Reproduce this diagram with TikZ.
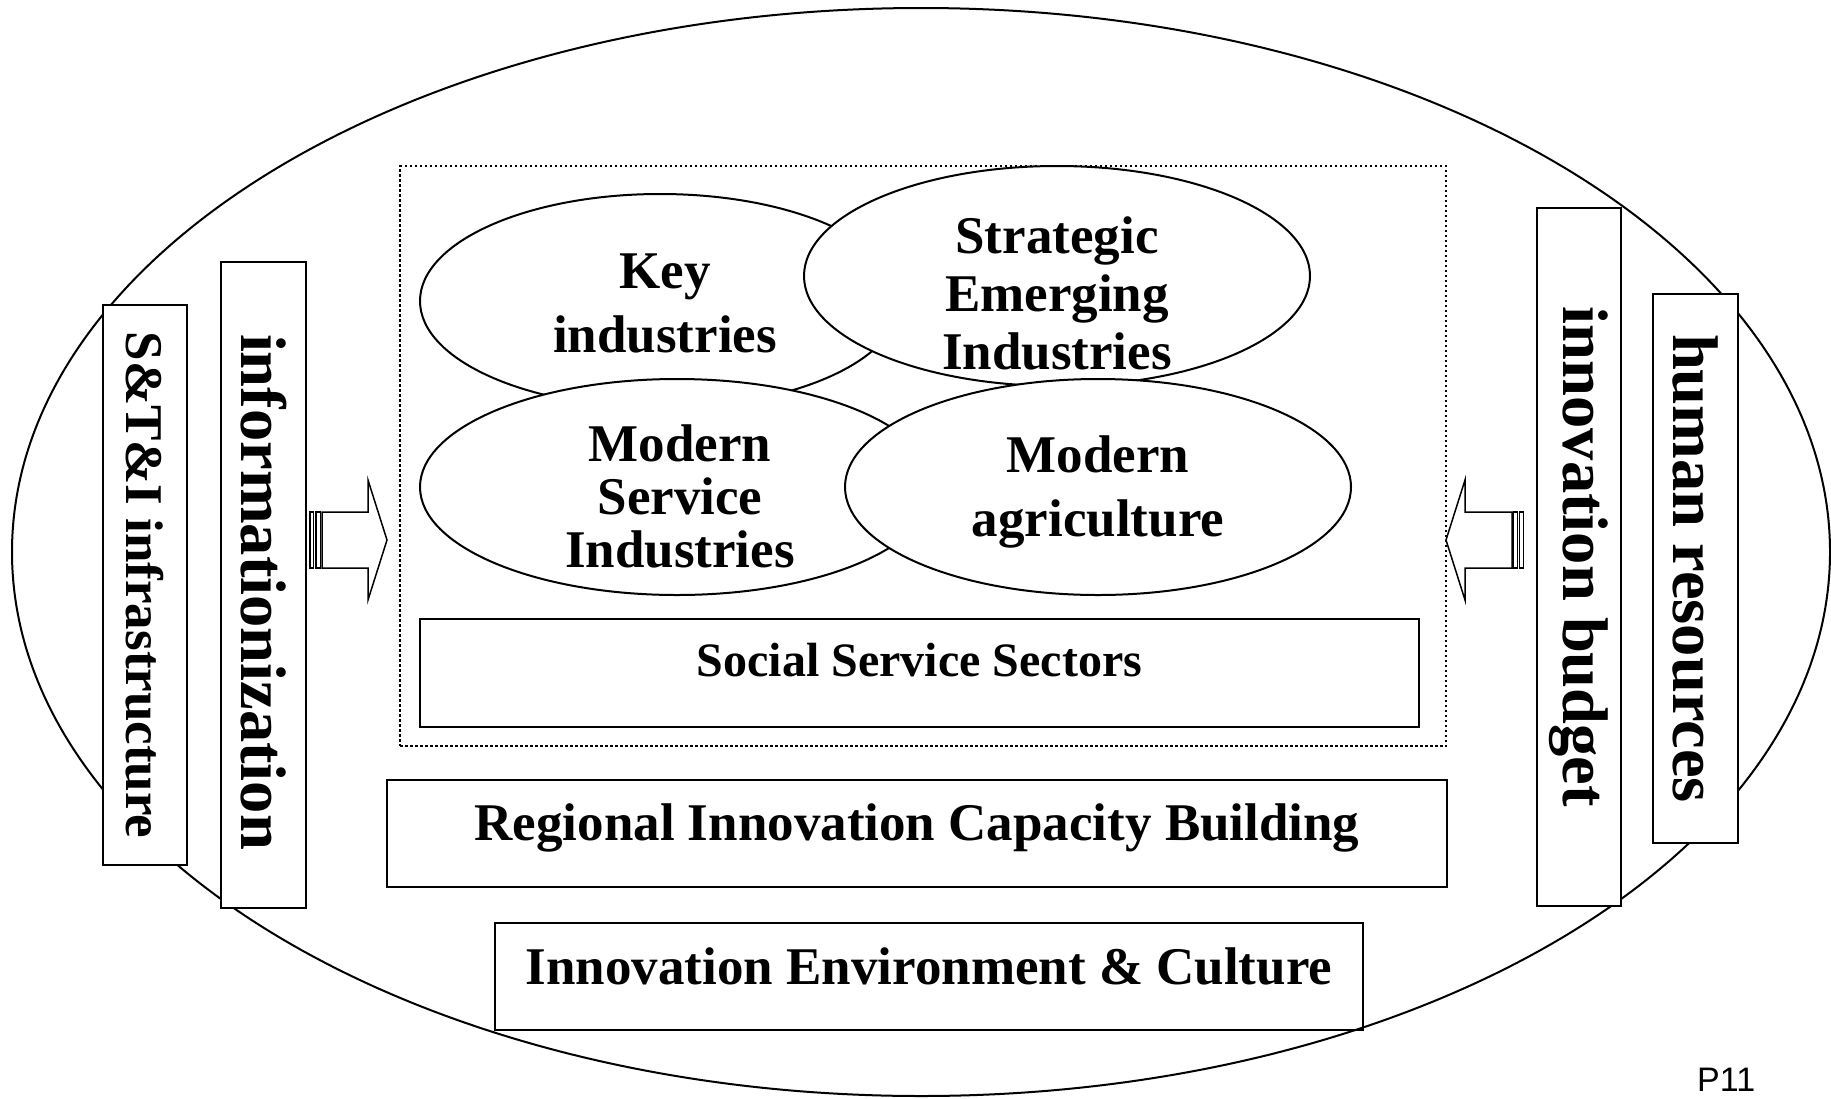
\documentclass[tikz,border=0pt]{standalone}
\usepackage{fontspec}
\setmainfont{Liberation Serif}
\newfontfamily\pagefont{Liberation Sans}
\usetikzlibrary{shapes.geometric,positioning}
\tikzset{
  industry/.style={ellipse,draw,line width=2pt,fill=white,inner sep=0pt},
  sector/.style={rectangle,draw,line width=2pt,inner sep=0pt,
    font=\fontsize{53}{60}\selectfont\bfseries},
  pillar/.style={rectangle,draw,line width=2pt,fill=white,inner sep=0pt,rotate=-90,
    font=\fontsize{64.5}{70}\selectfont\bfseries},
  blocktext/.style={align=center,inner sep=0pt},
  stripe/.style={draw,line width=1.5pt,fill=white}
}
\newcommand{\blockfont}[1]{\fontsize{53}{#1}\selectfont\bfseries}

\begin{document}
\begin{tikzpicture}[x=1pt,y=-1pt]
  \useasboundingbox (0,0) rectangle (1831,1098);
  % outer ellipse
  \draw[line width=2pt] (921,552) ellipse [x radius=909pt,y radius=544pt];
  % dotted frame round the industries
  \node[draw,line width=2.5pt,dash pattern=on 2.5pt off 2.5pt,
    minimum width=1046pt,minimum height=580pt] (core) at (923,456) {};
  % industries
  \node[industry,minimum width=480pt,minimum height=214pt] (key) at (660,301) {};
  \node[blocktext,font=\blockfont{64}] (keytext) at (665,303) {Key\\industries};
  \node[industry,minimum width=506pt,minimum height=220pt] (sei) at (1057,276) {};
  \node[blocktext,font=\blockfont{58}] (seitext) at (1057,293) {Strategic\\Emerging\\Industries};
  \node[industry,minimum width=514pt,minimum height=216pt] (msi) at (677,487) {};
  \node[blocktext,font=\blockfont{53}] (msitext) at (680,496) {Modern\\Service\\Industries};
  \node[industry,minimum width=506pt,minimum height=216pt] (agri) at (1098,487) {};
  \node[blocktext,font=\blockfont{64}] (agritext) at (1098,491.5) {Modern\\agriculture};
  % sectors
  \node[sector,minimum width=999pt,minimum height=108pt,
    font=\fontsize{48}{56}\selectfont\bfseries] (social) at (919.5,673) {};
  \node[font=\fontsize{48}{56}\selectfont\bfseries] (socialtext) at (919.5,660) {Social Service Sectors};
  \node[sector,minimum width=1060pt,minimum height=107pt] (region) at (917,833.5) {};
  \node[font=\fontsize{53}{60}\selectfont\bfseries] (regiontext) at (917,828)
    {Regional Innovation Capacity Building};
  \node[sector,minimum width=868pt,minimum height=107pt] (culture) at (929,976) {};
  \node[font=\fontsize{53}{60}\selectfont\bfseries] (culturetext) at (929,966)
    {Innovation Environment \& Culture};
  % pillars
  \node[pillar,minimum width=560pt,minimum height=84pt,
    font=\fontsize{53}{60}\selectfont\bfseries] (infra) at (145,585) {S\&T\&I infrastructure};
  \node[pillar,minimum width=646pt,minimum height=85pt] (info) at (263.5,585) {};
  \node[rotate=-90,font=\fontsize{64.5}{70}\selectfont\bfseries] (infotext) at (263.5,592) {informationization};
  \node[pillar,minimum width=698pt,minimum height=84pt] (budget) at (1579,557) {innovation budget};
  \node[pillar,minimum width=549pt,minimum height=85pt] (human) at (1695.5,568.5) {human resources};
  % striped arrows
  \draw[stripe] (310,512) rectangle (313.5,568);
  \draw[stripe] (316,512) rectangle (320.5,568);
  \draw[stripe] (322,512) -- (368,512) -- (368,480) -- (387,540) -- (368,600)
    -- (368,568) -- (322,568) -- cycle;
  \draw[stripe] (1519.5,512) rectangle (1523.5,568);
  \draw[stripe] (1513.5,512) rectangle (1517.5,568);
  \draw[stripe] (1512,512) -- (1465,512) -- (1465,480) -- (1446,540) -- (1465,600)
    -- (1465,568) -- (1512,568) -- cycle;
  % page mark
  \node[anchor=base west,inner sep=0pt,font=\fontsize{34}{40}\pagefont] (page) at (1697,1091) {P11};
\end{tikzpicture}
\end{document}
